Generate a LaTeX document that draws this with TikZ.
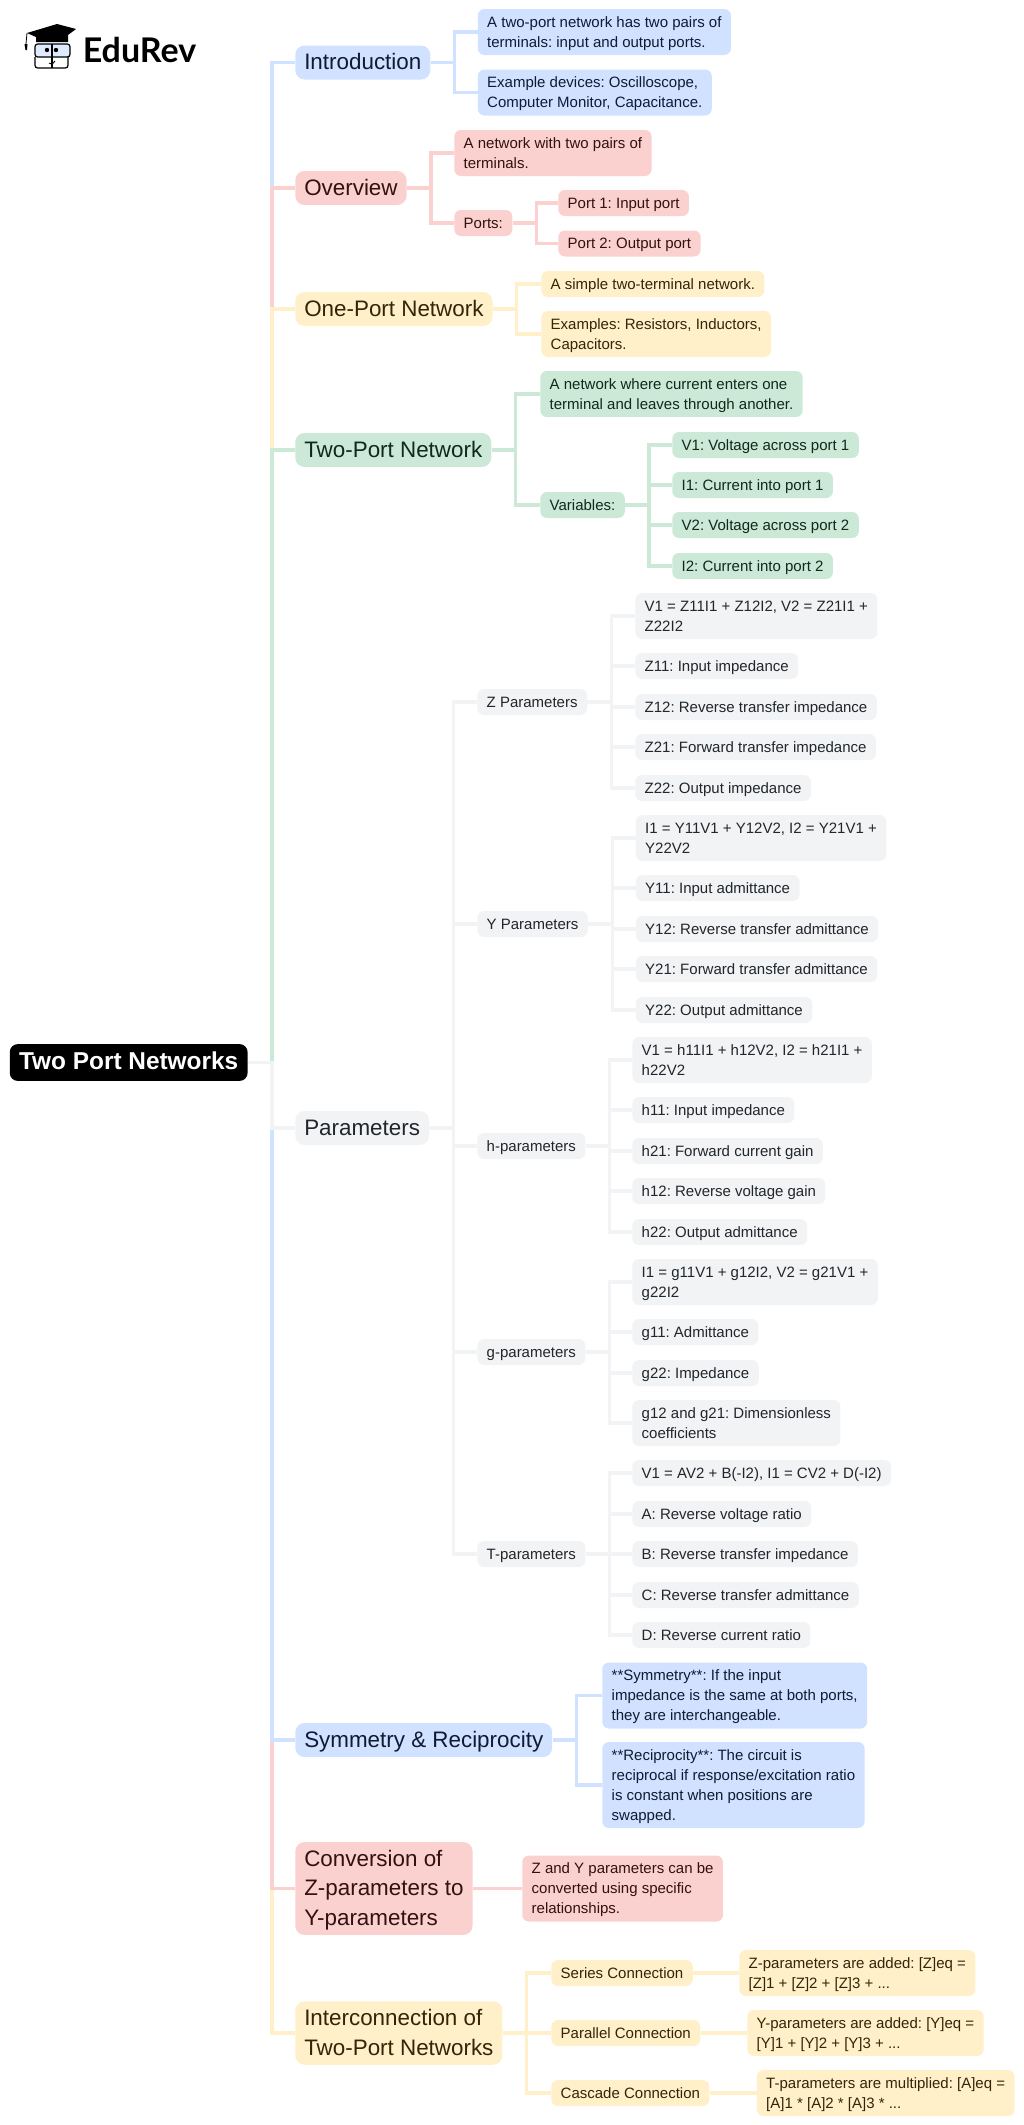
\documentclass[tikz,border=0pt]{standalone}
\usepackage{fontspec}
\setmainfont{Liberation Sans}
\newfontfamily\logofont{Lato}
\usepackage{tikz}
\newcommand{\nodestrut}{\rule[-.25\baselineskip]{0pt}{\baselineskip}}
\newcommand{\rows}[1]{\nodestrut#1\nodestrut}
\definecolor{bluefill}{HTML}{D0E2FF}
\definecolor{bluetext}{HTML}{0F1B33}
\definecolor{redfill}{HTML}{FAD1CE}
\definecolor{redtext}{HTML}{331110}
\definecolor{yellowfill}{HTML}{FFF0C9}
\definecolor{yellowtext}{HTML}{332508}
\definecolor{greenfill}{HTML}{CCE8D7}
\definecolor{greentext}{HTML}{10291A}
\definecolor{grayfill}{HTML}{F1F3F5}
\definecolor{graytext}{HTML}{22262A}
\tikzset{
    head/.style={anchor=west, rounded corners=7pt, inner xsep=6.75pt, inner ysep=1.7pt, align=left,
        font=\fontsize{16.8pt}{22.1pt}\selectfont\frenchspacing, execute at begin node=\nodestrut,
        fill=#1fill, text=#1text},
    leaf/.style={anchor=west, rounded corners=5pt, inner xsep=7.1pt, inner ysep=2.25pt, align=left,
        font=\fontsize{11.25pt}{15pt}\selectfont\frenchspacing, execute at begin node=\nodestrut,
        fill=#1fill, text=#1text},
    bar/.style={draw=#1fill, line width=2.5pt}
}

\begin{document}
\begin{tikzpicture}[x=0.75pt,y=-0.75pt]
    \useasboundingbox (0,0) rectangle (1024,2125);

    % logo
    \fill (27,33) -- (57,24) -- (76,29) -- (68,35) -- (68,42) -- (36,42) -- (36,37) -- cycle;
    \draw[line width=0.6pt] (27,33) -- (26,44);
    \fill (24.5,44) -- (27.5,44) -- (27,50) -- (25.5,50) -- cycle;
    \draw[fill=bluefill!70!white, line width=0.9pt, rounded corners=2pt] (35,44) rectangle (70,57);
    \draw[line width=0.9pt, rounded corners=2pt] (35,57) -- (35,68) -- (68,68) -- (68,57);
    \draw[line width=0.9pt] (52,44) -- (52,68);
    \fill (47,50) circle (2.2) (56,50) circle (2.2);
    \draw[line width=0.7pt] (49,63) .. controls (52,65) and (54,63) .. (55,61);
    \node[anchor=base west, inner sep=0pt, font=\logofont\bfseries\fontsize{25.5pt}{28pt}\selectfont] (logo) at (82.5,62) {EduRev};

    \node[anchor=west, fill=black, text=white, rounded corners=6pt, inner xsep=7pt, inner ysep=2.8pt,
        font=\bfseries\fontsize{18.3pt}{22pt}\selectfont, execute at begin node=\nodestrut] (root) at (9.5,1062.5) {Two Port Networks};

    \node[head=blue] (intro) at (295,62.5) {Introduction};
    \node[leaf=blue] (introa) at (477.5,32) {\rows{A two-port network has two pairs of\\terminals: input and output ports.}};
    \node[leaf=blue] (introb) at (477.5,92.5) {\rows{Example devices: Oscilloscope,\\Computer Monitor, Capacitance.}};

    \node[head=red] (over) at (295,188) {Overview};
    \node[leaf=red] (overa) at (454,153) {\rows{A network with two pairs of\\terminals.}};
    \node[leaf=red] (ports) at (454,223) {Ports:};
    \node[leaf=red] (porta) at (558,203) {Port 1: Input port};
    \node[leaf=red] (portb) at (558,243.5) {Port 2: Output port};

    \node[head=yellow] (onep) at (295,309) {One-Port Network};
    \node[leaf=yellow] (onea) at (541,284) {A simple two-terminal network.};
    \node[leaf=yellow] (oneb) at (541,334) {\rows{Examples: Resistors, Inductors,\\Capacitors.}};

    \node[head=green] (twop) at (295,450) {Two-Port Network};
    \node[leaf=green] (twoa) at (540,394) {\rows{A network where current enters one\\terminal and leaves through another.}};
    \node[leaf=green] (vars) at (540,505) {Variables:};
    \node[leaf=green] (vara) at (672,445) {V1: Voltage across port 1};
    \node[leaf=green] (varb) at (672,485) {I1: Current into port 1};
    \node[leaf=green] (varc) at (672,525) {V2: Voltage across port 2};
    \node[leaf=green] (vard) at (672,566) {I2: Current into port 2};

    \node[head=gray] (param) at (295,1128) {Parameters};

    \node[leaf=gray] (zpar) at (477,702) {Z Parameters};
    \node[leaf=gray] (zeq) at (635,616) {\rows{V1 = Z11I1 + Z12I2, V2 = Z21I1 +\\Z22I2}};
    \node[leaf=gray] (zaa) at (635,666) {Z11: Input impedance};
    \node[leaf=gray] (zab) at (635,707) {Z12: Reverse transfer impedance};
    \node[leaf=gray] (zba) at (635,747) {Z21: Forward transfer impedance};
    \node[leaf=gray] (zbb) at (635,788) {Z22: Output impedance};

    \node[leaf=gray] (ypar) at (477,924) {Y Parameters};
    \node[leaf=gray] (yeq) at (635.5,838) {\rows{I1 = Y11V1 + Y12V2, I2 = Y21V1 +\\Y22V2}};
    \node[leaf=gray] (yaa) at (635.5,888) {Y11: Input admittance};
    \node[leaf=gray] (yab) at (635.5,929) {Y12: Reverse transfer admittance};
    \node[leaf=gray] (yba) at (635.5,969) {Y21: Forward transfer admittance};
    \node[leaf=gray] (ybb) at (635.5,1010) {Y22: Output admittance};

    \node[leaf=gray] (hpar) at (477,1146) {h-parameters};
    \node[leaf=gray] (heq) at (632,1060) {\rows{V1 = h11I1 + h12V2, I2 = h21I1 +\\h22V2}};
    \node[leaf=gray] (haa) at (632,1110) {h11: Input impedance};
    \node[leaf=gray] (hba) at (632,1151) {h21: Forward current gain};
    \node[leaf=gray] (hab) at (632,1191) {h12: Reverse voltage gain};
    \node[leaf=gray] (hbb) at (632,1232) {h22: Output admittance};

    \node[leaf=gray] (gpar) at (477,1352) {g-parameters};
    \node[leaf=gray] (geq) at (632,1282) {\rows{I1 = g11V1 + g12I2, V2 = g21V1 +\\g22I2}};
    \node[leaf=gray] (gaa) at (632,1332) {g11: Admittance};
    \node[leaf=gray] (gbb) at (632,1373) {g22: Impedance};
    \node[leaf=gray] (gab) at (632,1423) {\rows{g12 and g21: Dimensionless\\coefficients}};

    \node[leaf=gray] (tpar) at (477,1554) {T-parameters};
    \node[leaf=gray] (teq) at (632,1473) {V1 = AV2 + B(-I2), I1 = CV2 + D(-I2)};
    \node[leaf=gray] (ta) at (632,1514) {A: Reverse voltage ratio};
    \node[leaf=gray] (tb) at (632,1554) {B: Reverse transfer impedance};
    \node[leaf=gray] (tc) at (632,1595) {C: Reverse transfer admittance};
    \node[leaf=gray] (td) at (632,1635) {D: Reverse current ratio};

    \node[head=blue] (sym) at (295,1740) {Symmetry \& Reciprocity};
    \node[leaf=blue] (syma) at (602,1695.5) {\rows{**Symmetry**: If the input\\impedance is the same at both ports,\\they are interchangeable.}};
    \node[leaf=blue] (symb) at (602,1785) {\rows{**Reciprocity**: The circuit is\\reciprocal if response/excitation ratio\\is constant when positions are\\swapped.}};

    \node[head=red] (conv) at (295,1888.5) {\rows{Conversion of\\Z-parameters to\\Y-parameters}};
    \node[leaf=red] (conva) at (522,1888.5) {\rows{Z and Y parameters can be\\converted using specific\\relationships.}};

    \node[head=yellow] (inter) at (295,2033) {\rows{Interconnection of\\Two-Port Networks}};
    \node[leaf=yellow] (ser) at (551,1973) {Series Connection};
    \node[leaf=yellow] (par) at (551,2033) {Parallel Connection};
    \node[leaf=yellow] (cas) at (551,2093) {Cascade Connection};
    \node[leaf=yellow] (sera) at (739,1973) {\rows{Z-parameters are added: [Z]eq =\\{}[Z]1 + [Z]2 + [Z]3 + ...}};
    \node[leaf=yellow] (para) at (747,2033) {\rows{Y-parameters are added: [Y]eq =\\{}[Y]1 + [Y]2 + [Y]3 + ...}};
    \node[leaf=yellow] (casa) at (756.5,2093) {\rows{T-parameters are multiplied: [A]eq =\\{}[A]1 * [A]2 * [A]3 * ...}};

    \draw[bar=blue] (root.east) -- ++(24,0) |- (intro.west);
    \draw[bar=red] (root.east) -- ++(24,0) |- (over.west);
    \draw[bar=yellow] (root.east) -- ++(24,0) |- (onep.west);
    \draw[bar=green] (root.east) -- ++(24,0) |- (twop.west);
    \draw[bar=yellow] (root.east) -- ++(24,0) |- (inter.west);
    \draw[bar=red] (root.east) -- ++(24,0) |- (conv.west);
    \draw[bar=blue] (root.east) -- ++(24,0) |- (sym.west);
    \draw[bar=gray] (root.east) -- ++(24,0) |- (param.west);

    \draw[bar=blue] (intro.east) -- ++(24,0) |- (introa.west);
    \draw[bar=blue] (intro.east) -- ++(24,0) |- (introb.west);
    \draw[bar=red] (over.east) -- ++(24,0) |- (overa.west);
    \draw[bar=red] (over.east) -- ++(24,0) |- (ports.west);
    \draw[bar=red] (ports.east) -- ++(24,0) |- (porta.west);
    \draw[bar=red] (ports.east) -- ++(24,0) |- (portb.west);
    \draw[bar=yellow] (onep.east) -- ++(24,0) |- (onea.west);
    \draw[bar=yellow] (onep.east) -- ++(24,0) |- (oneb.west);
    \draw[bar=green] (twop.east) -- ++(24,0) |- (twoa.west);
    \draw[bar=green] (twop.east) -- ++(24,0) |- (vars.west);
    \draw[bar=green] (vars.east) -- ++(24,0) |- (vara.west);
    \draw[bar=green] (vars.east) -- ++(24,0) |- (varb.west);
    \draw[bar=green] (vars.east) -- ++(24,0) |- (varc.west);
    \draw[bar=green] (vars.east) -- ++(24,0) |- (vard.west);

    \draw[bar=gray] (param.east) -- ++(24,0) |- (zpar.west);
    \draw[bar=gray] (param.east) -- ++(24,0) |- (ypar.west);
    \draw[bar=gray] (param.east) -- ++(24,0) |- (hpar.west);
    \draw[bar=gray] (param.east) -- ++(24,0) |- (gpar.west);
    \draw[bar=gray] (param.east) -- ++(24,0) |- (tpar.west);

    \draw[bar=gray] (zpar.east) -- ++(24,0) |- (zeq.west);
    \draw[bar=gray] (zpar.east) -- ++(24,0) |- (zaa.west);
    \draw[bar=gray] (zpar.east) -- ++(24,0) |- (zab.west);
    \draw[bar=gray] (zpar.east) -- ++(24,0) |- (zba.west);
    \draw[bar=gray] (zpar.east) -- ++(24,0) |- (zbb.west);
    \draw[bar=gray] (ypar.east) -- ++(24,0) |- (yeq.west);
    \draw[bar=gray] (ypar.east) -- ++(24,0) |- (yaa.west);
    \draw[bar=gray] (ypar.east) -- ++(24,0) |- (yab.west);
    \draw[bar=gray] (ypar.east) -- ++(24,0) |- (yba.west);
    \draw[bar=gray] (ypar.east) -- ++(24,0) |- (ybb.west);
    \draw[bar=gray] (hpar.east) -- ++(24,0) |- (heq.west);
    \draw[bar=gray] (hpar.east) -- ++(24,0) |- (haa.west);
    \draw[bar=gray] (hpar.east) -- ++(24,0) |- (hba.west);
    \draw[bar=gray] (hpar.east) -- ++(24,0) |- (hab.west);
    \draw[bar=gray] (hpar.east) -- ++(24,0) |- (hbb.west);
    \draw[bar=gray] (gpar.east) -- ++(24,0) |- (geq.west);
    \draw[bar=gray] (gpar.east) -- ++(24,0) |- (gaa.west);
    \draw[bar=gray] (gpar.east) -- ++(24,0) |- (gbb.west);
    \draw[bar=gray] (gpar.east) -- ++(24,0) |- (gab.west);
    \draw[bar=gray] (tpar.east) -- ++(24,0) |- (teq.west);
    \draw[bar=gray] (tpar.east) -- ++(24,0) |- (ta.west);
    \draw[bar=gray] (tpar.east) -- ++(24,0) |- (tb.west);
    \draw[bar=gray] (tpar.east) -- ++(24,0) |- (tc.west);
    \draw[bar=gray] (tpar.east) -- ++(24,0) |- (td.west);

    \draw[bar=blue] (sym.east) -- ++(24,0) |- (syma.west);
    \draw[bar=blue] (sym.east) -- ++(24,0) |- (symb.west);
    \draw[bar=red] (conv) -- (conva);
    \draw[bar=yellow] (inter.east) -- ++(24,0) |- (ser.west);
    \draw[bar=yellow] (inter.east) -- ++(24,0) |- (par.west);
    \draw[bar=yellow] (inter.east) -- ++(24,0) |- (cas.west);
    \draw[bar=yellow] (ser) -- (sera);
    \draw[bar=yellow] (par) -- (para);
    \draw[bar=yellow] (cas) -- (casa);
\end{tikzpicture}
\end{document}
